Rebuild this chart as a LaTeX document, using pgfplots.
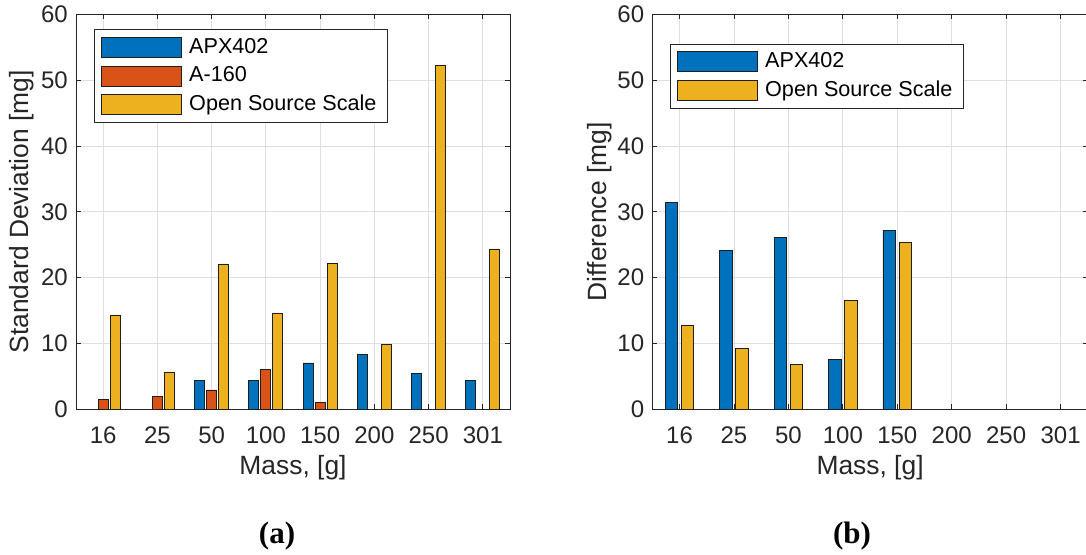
\documentclass[border=0pt]{standalone}
\usepackage{fontspec}
\setmainfont{Liberation Sans}
\newfontfamily\timesfont{Liberation Serif}
\usepackage{pgfplots}
\pgfplotsset{compat=1.18}
\definecolor{mblue}{RGB}{0,114,189}
\definecolor{mred}{RGB}{217,83,25}
\definecolor{myellow}{RGB}{237,177,32}
\definecolor{mtext}{RGB}{38,38,38}
\definecolor{mgrid}{RGB}{223,223,223}
\definecolor{medge}{RGB}{30,30,30}

\pgfplotsset{
  area legend/.style={legend image code/.code={\draw[##1] (0pt,-10pt) rectangle (80pt,10pt);}},
  mstyle/.style={
    scale only axis, height=395pt,
    xmin=-0.5, xmax=7.5, ymin=0, ymax=60,
    xtick={0,...,7}, xticklabels={16,25,50,100,150,200,250,301},
    ytick={0,10,...,60},
    grid=major, major grid style={mgrid, line width=0.8pt},
    axis line style={mtext, line width=0.8pt},
    every tick/.style={mtext, line width=0.8pt},
    tick align=inside, major tick length=5pt,
    tick label style={font=\fontsize{24}{28}\selectfont, text=mtext},
    /pgf/number format/assume math mode=true,
    yticklabel style={inner sep=0pt, xshift=-8pt},
    xticklabel style={anchor=base, inner sep=0pt, yshift=-33.7pt},
    label style={font=\fontsize{26.4}{30}\selectfont, text=mtext},
    xlabel={Mass, [g]},
    xlabel style={at={(axis description cs:0.5,0)}, anchor=base, yshift=-64.7pt},
    legend cell align=left,
    legend style={anchor=north west, draw=mtext, line width=0.8pt, fill=white,
      inner xsep=7pt, inner ysep=7pt, row sep=8pt, column sep=3.5pt,
      font=\fontsize{21.6}{24}\selectfont, text=black,
      nodes={inner xsep=3.5pt, inner ysep=0pt, text height=16pt, text depth=4pt}},
  },
  mbar/.style={ybar, area legend, draw=medge, line width=0.8pt},
}

\begin{document}
\begin{tikzpicture}
\useasboundingbox (0,0) rectangle (1086pt,554pt);

\begin{axis}[mstyle, width=434pt, at={(76pt,144.7pt)}, anchor=south west,
  ylabel={Standard Deviation [mg]},
  ylabel style={at={(axis description cs:-0.1244,0.5)}, anchor=center},
  legend style={at={(0.0415,0.962)}}]
\addplot[mbar, fill=mblue, bar width=0.184, bar shift=-0.221] coordinates {
  (2,4.4) (3,4.4) (4,7.04) (5,8.4) (6,5.47) (7,4.4)};
\addlegendentry{APX402}
\addplot[mbar, fill=mred, bar width=0.184, bar shift=0] coordinates {
  (0,1.47) (1,1.92) (2,2.94) (3,6.03) (4,1.06)};
\addlegendentry{A-160}
\addplot[mbar, fill=myellow, bar width=0.184, bar shift=0.221] coordinates {
  (0,14.33) (1,5.67) (2,22.08) (3,14.53) (4,22.18) (5,9.87) (6,52.2) (7,24.35)};
\addlegendentry{Open Source Scale}
\end{axis}

\begin{axis}[mstyle, width=435.5pt, at={(652.3pt,144.7pt)}, anchor=south west,
  ylabel={Difference [mg]},
  ylabel style={at={(axis description cs:-0.120,0.5)}, anchor=center},
  legend style={at={(0.0406,0.925)}}]
\addplot[mbar, fill=mblue, bar width=0.233, bar shift=-0.147] coordinates {
  (0,31.4) (1,24.1) (2,26.1) (3,7.6) (4,27.2)};
\addlegendentry{APX402}
\addplot[mbar, fill=myellow, bar width=0.233, bar shift=0.147] coordinates {
  (0,12.76) (1,9.2) (2,6.8) (3,16.5) (4,25.4)};
\addlegendentry{Open Source Scale}
\end{axis}

\node[anchor=base, font=\timesfont\bfseries\fontsize{31}{36}\selectfont] at (277pt,11pt) {(a)};
\node[anchor=base, font=\timesfont\bfseries\fontsize{31}{36}\selectfont] at (852pt,11pt) {(b)};
\end{tikzpicture}
\end{document}
